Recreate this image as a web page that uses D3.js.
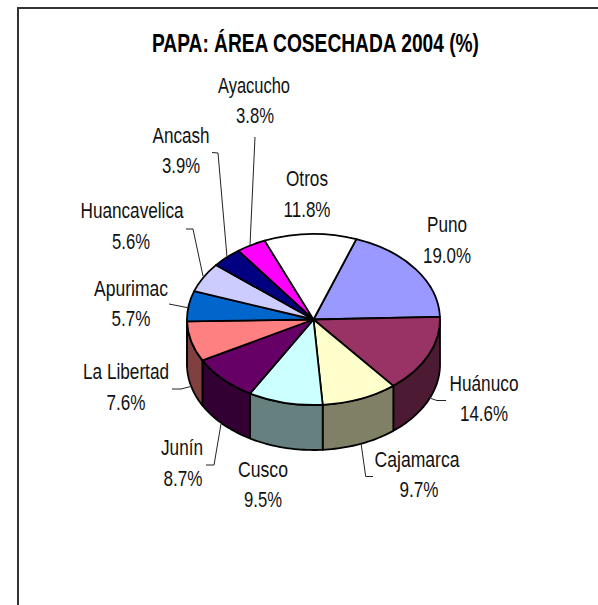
<!DOCTYPE html>
<html><head><meta charset="utf-8">
<script src="https://cdn.jsdelivr.net/npm/d3@7"></script>
<style>html,body{margin:0;padding:0;background:#fff}svg{display:block}</style>
</head><body><svg id="c" width="598" height="605"></svg>
<script>
const categories=["Puno","Huánuco","Cajamarca","Cusco","Junín","La Libertad","Apurimac","Huancavelica","Ancash","Ayacucho","Otros"];
const values=[19.0,14.6,9.7,9.5,8.7,7.6,5.7,5.6,3.9,3.8,11.8];
const colors=["#9999FF","#993366","#FFFFCC","#CCFFFF","#660066","#FF8080","#0066CC","#CCCCFF","#000080","#FF00FF","#FFFFFF"];
const titleText="PAPA: ÁREA COSECHADA 2004 (%)";
// label layout: name centre x, name baseline, name width, value centre x, value baseline, value width
const labelLayout=[[447,232,40,447,263,48],[484,391,69,484,421,48],[417,467,85,419,497,39],[263,477,50,263,507,38],[182,455,42,183,486,39],[126,379,86,126,410,39],[131,296,74,131,326,39],[132,218,103,131,249,38],[181,143,57,181,173,38],[254,93,72,255,123,38],[307,186,42,307,217,47]];
// leader polylines, keyed by category index
const leaders={1:[[431,398.5],[437,400.5],[446,400.5]],2:[[361,443],[365.7,476.5],[373,476.5]],4:[[221,424],[214,465],[206,465]],5:[[172,389],[181,389],[190,386.7]],6:[[169,304],[187.7,307.7]],7:[[186,229],[193,229],[203,276]],8:[[212,152.5],[218,153],[227,257]],9:[[255,137],[250,245]]};
const cx=313.5,cy=319.5,rx=126.5,ry=85.5,depth=45;
const svg=d3.select("#c");
// frame
svg.append("path").attr("d","M18,605V8H598").attr("fill","none").attr("stroke","#333").attr("stroke-width",2);
svg.append("text").attr("x",315.5).attr("y",51.5).attr("text-anchor","middle").attr("textLength",327).attr("lengthAdjust","spacingAndGlyphs")
 .attr("font-family","Liberation Sans").attr("font-weight","bold").attr("font-size",25).attr("fill","#000").text(titleText);
const start=19.8*Math.PI/180;
const pie=d3.pie().sort(null).value(d=>d).startAngle(start).endAngle(start+2*Math.PI);
const arcs=pie(values);
const px=a=>cx+rx*Math.sin(a), py=a=>cy-ry*Math.cos(a);
const line=d3.line();
// sides
const vis0=Math.PI/2, vis1=3*Math.PI/2;
arcs.forEach((d,i)=>{
 const a0=Math.max(d.startAngle,vis0),a1=Math.min(d.endAngle,vis1);
 if(a1<=a0)return;
 const n=Math.ceil((a1-a0)*40);
 const top=d3.range(n+1).map(k=>{const a=a0+(a1-a0)*k/n;return [px(a),py(a)]});
 const bot=top.map(p=>[p[0],p[1]+depth]).reverse();
 const c=d3.rgb(colors[i]);
 svg.append("path").attr("d",line(top.concat(bot))+"Z")
  .attr("fill",d3.rgb(c.r/2,c.g/2,c.b/2))
  .attr("stroke","#000").attr("stroke-width",1.8).attr("stroke-linejoin","round");
});
// top
const arcGen=d3.arc().innerRadius(0).outerRadius(rx);
svg.append("g").attr("transform",`translate(${cx},${cy}) scale(1,${ry/rx})`)
 .selectAll("path").data(arcs).join("path").attr("d",arcGen)
 .attr("fill",(d,i)=>colors[i]).attr("stroke","#000").attr("stroke-width",1.8)
 .attr("stroke-linejoin","round").attr("vector-effect","non-scaling-stroke");
// leaders
Object.entries(leaders).forEach(([k,p])=>{
 svg.append("path").attr("d",line(p)).attr("fill","none").attr("stroke","#222").attr("stroke-width",1);
});
// labels
categories.forEach((c,i)=>{
 const [x,y,w,vx,vy,vw]=labelLayout[i];
 const g=svg.append("g").attr("font-family","Liberation Sans").attr("font-size",22).attr("fill","#111").attr("text-anchor","middle");
 g.append("text").attr("x",x).attr("y",y).attr("textLength",w).attr("lengthAdjust","spacingAndGlyphs").text(c);
 g.append("text").attr("x",vx).attr("y",vy).attr("textLength",vw).attr("lengthAdjust","spacingAndGlyphs").text(values[i].toFixed(1)+"%");
});
</script></body></html>
